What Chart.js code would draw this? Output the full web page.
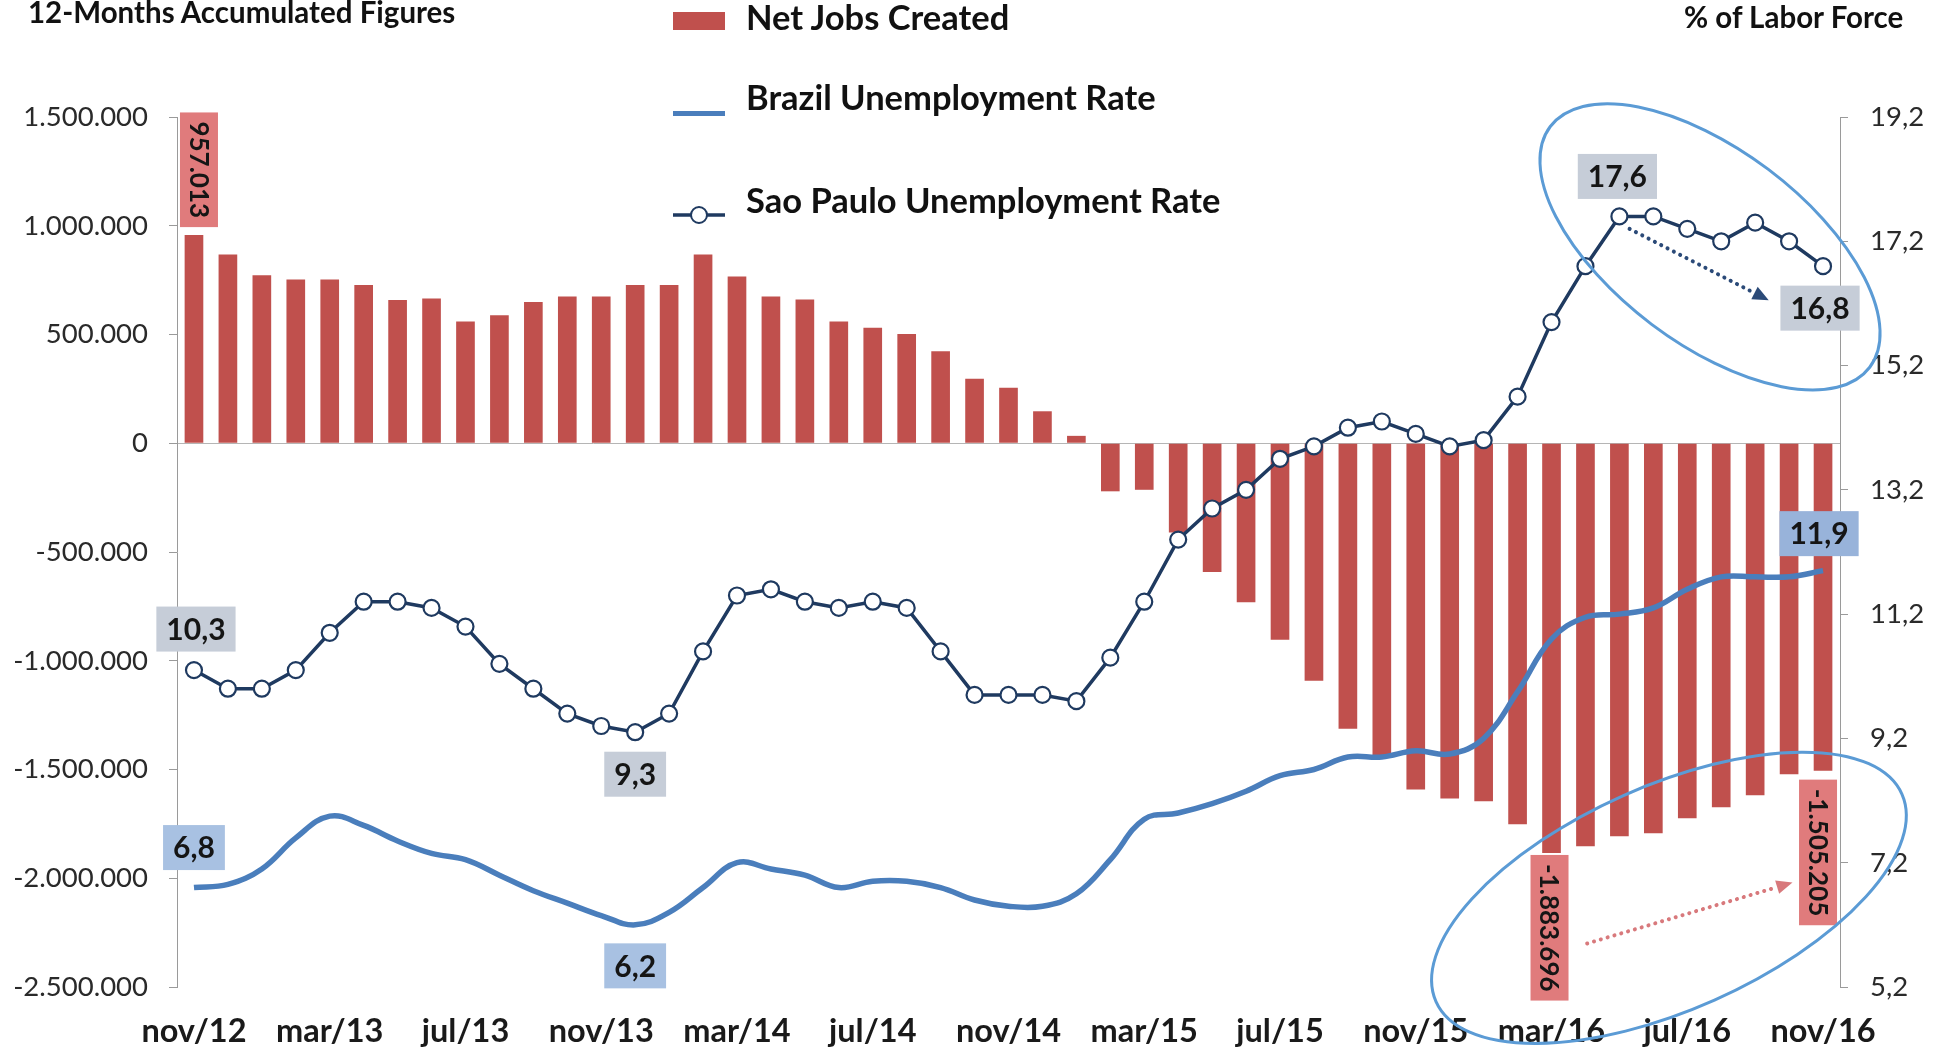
<!DOCTYPE html>
<html>
<head>
<meta charset="utf-8">
<title>Net Jobs Created and Unemployment Rate</title>
<script src="https://cdn.jsdelivr.net/npm/chart.js@4.4.1/dist/chart.umd.min.js"></script>
<style>
  html, body { margin: 0; padding: 0; background: #fff; }
  #wrap { position: relative; width: 1939px; height: 1054px; overflow: hidden; }
  #chart { position: absolute; left: 0; top: 0; }
  .heading { position: absolute; font: 700 29.5px Lato, sans-serif; line-height: 30px; color: #111; white-space: nowrap; }
  .legend-item { position: absolute; left: 673px; height: 34px; font: 700 34.5px Lato, sans-serif; line-height: 34px; color: #111; white-space: nowrap; }
  .legend-item .symbol { position: absolute; left: 0; width: 52px; }
  .legend-item .text { position: absolute; left: 73px; top: 0; }
</style>
</head>
<body>
<div id="wrap">
  <canvas id="chart" width="1939" height="1054"></canvas>
  <div class="heading" style="left:28px; top:-3px">12-Months Accumulated Figures</div>
  <div class="heading" style="left:1684px; top:2px">% of Labor Force</div>
  <div id="legend"></div>
</div>
<script>
// Months on the category axis (nov/12 .. nov/16)
const monthLabels = [
    'nov/12', 'dec/12', 'jan/13', 'feb/13', 'mar/13', 'apr/13', 'may/13', 'jun/13', 'jul/13', 'aug/13', 'sep/13', 'oct/13',
    'nov/13', 'dec/13', 'jan/14', 'feb/14', 'mar/14', 'apr/14', 'may/14', 'jun/14', 'jul/14', 'aug/14', 'sep/14', 'oct/14',
    'nov/14', 'dec/14', 'jan/15', 'feb/15', 'mar/15', 'apr/15', 'may/15', 'jun/15', 'jul/15', 'aug/15', 'sep/15', 'oct/15',
    'nov/15', 'dec/15', 'jan/16', 'feb/16', 'mar/16', 'apr/16', 'may/16', 'jun/16', 'jul/16', 'aug/16', 'sep/16', 'oct/16',
    'nov/16'
];

// Months that get a label under the axis
const axisMonths = ['nov/12', 'mar/13', 'jul/13', 'nov/13', 'mar/14', 'jul/14', 'nov/14', 'mar/15', 'jul/15', 'nov/15', 'mar/16', 'jul/16', 'nov/16'];

// Net jobs created, 12-month accumulated
const netJobsCreated = [
    957013, 868000, 772000, 753000, 753000, 728000, 659000, 666000, 560000, 589000, 649000, 675000,
    675000, 728000, 728000, 868000, 767000, 675000, 661000, 560000, 531000, 502000, 423000, 296000,
    255000, 147000, 34000, -221000, -214000, -410000, -592000, -731000, -904000, -1092000, -1313000, -1438000,
    -1592000, -1633000, -1646000, -1752000, -1883696, -1853000, -1807000, -1793000, -1724000, -1674000, -1618000, -1522000,
    -1505205
];

// Unemployment rates, % of labor force
const brazilUnemployment = [
    6.8, 6.85, 7.1, 7.6, 7.95, 7.8, 7.55, 7.35, 7.25, 7.0, 6.75, 6.55,
    6.35, 6.2, 6.4, 6.8, 7.2, 7.1, 7.0, 6.8, 6.9, 6.9, 6.8, 6.6,
    6.5, 6.5, 6.7, 7.25, 7.9, 8.0, 8.15, 8.35, 8.6, 8.7, 8.9, 8.9,
    9.0, 8.95, 9.2, 9.95, 10.8, 11.15, 11.2, 11.3, 11.6, 11.8, 11.8, 11.8,
    11.9
];
const saoPauloUnemployment = [
    10.3, 10.0, 10.0, 10.3, 10.9, 11.4, 11.4, 11.3, 11.0, 10.4, 10.0, 9.6,
    9.4, 9.3, 9.6, 10.6, 11.5, 11.6, 11.4, 11.3, 11.4, 11.3, 10.6, 9.9,
    9.9, 9.9, 9.8, 10.5, 11.4, 12.4, 12.9, 13.2, 13.7, 13.9, 14.2, 14.3,
    14.1, 13.9, 14.0, 14.7, 15.9, 16.8, 17.6, 17.6, 17.4, 17.2, 17.5, 17.2,
    16.8
];

// Axis ticks
const jobsTicks = [-2500000, -2000000, -1500000, -1000000, -500000, 0, 500000, 1000000, 1500000];
const rateTicks = [5.2, 7.2, 9.2, 11.2, 13.2, 15.2, 17.2, 19.2];

const RED = '#c0504d';
const BLUE = '#4a7ebc';
const NAVY = '#1f3a60';

function formatJobs(v) {
    const sign = v < 0 ? '-' : '';
    return sign + Math.abs(Math.round(v)).toString().replace(/\B(?=(\d{3})+(?!\d))/g, '.');
}

function formatRate(v) {
    return v.toFixed(1).replace('.', ',');
}

// Value boxes on selected points: dataset index, point index, offset, colour
const valueTags = [
    { dataset: 2, index: 0, dx: 2, dy: -41, bg: '#c6cdd8' },
    { dataset: 2, index: 13, dx: 0, dy: 42, bg: '#c6cdd8' },
    { dataset: 2, index: 42, dx: -2, dy: -40, bg: '#c6cdd8' },
    { dataset: 2, index: 48, dx: -3, dy: 42, bg: '#c6cdd8' },
    { dataset: 1, index: 0, dx: 0, dy: -40, bg: '#a8c1e2' },
    { dataset: 1, index: 13, dx: 0, dy: 41, bg: '#a8c1e2' },
    { dataset: 1, index: 48, dx: -4, dy: -37, bg: '#98b3da' },
    { dataset: 0, index: 0, dx: 5, gap: 8, bg: '#e07b7c' },
    { dataset: 0, index: 40, dx: -2, gap: 2, bg: '#e07b7c' },
    { dataset: 0, index: 48, dx: -5, gap: 9, bg: '#e07b7c' }
];

// Highlight ellipses and trend arrows, anchored in data space
const highlightRings = [
    { at: [44.67, 17.11], axis: 'y2', rx: 200, ry: 97, angle: 37 },
    { at: [43.46, -2090000], axis: 'y', rx: 255, ry: 112, angle: -24 }
];
const trendArrows = [
    { from: [42.3, 17.4], to: [46.4, 16.25], axis: 'y2', color: '#2b4a78' },
    { from: [41.05, -2300000], to: [47.1, -2020000], axis: 'y', color: '#d8797c' }
];

// Legend rows (top of row, centre of symbol relative to row)
const legendRows = [
    { top: 0, symbolY: 21 },
    { top: 80, symbolY: 33 },
    { top: 183, symbolY: 22 }
];

const valueTagPlugin = {
    id: 'valueTags',
    afterDatasetsDraw(chart) {
        const ctx = chart.ctx;
        ctx.save();
        valueTags.forEach(t => {
            const ds = chart.data.datasets[t.dataset];
            const el = chart.getDatasetMeta(t.dataset).data[t.index];
            const value = ds.data[t.index];
            if (ds.type === 'bar') {
                const text = formatJobs(value);
                ctx.font = 'bold 26px Lato, sans-serif';
                const w = ctx.measureText(text).width;
                const boxW = 38, boxH = w + 18;
                const cx = el.x + t.dx;
                const top = value >= 0 ? el.y - t.gap - boxH : el.y + t.gap;
                ctx.fillStyle = t.bg;
                ctx.fillRect(cx - boxW / 2, top, boxW, boxH);
                ctx.translate(cx, top + boxH / 2);
                ctx.rotate(Math.PI / 2);
                ctx.fillStyle = '#151515';
                ctx.textAlign = 'center';
                ctx.textBaseline = 'middle';
                ctx.fillText(text, 0, 1);
                ctx.setTransform(1, 0, 0, 1, 0, 0);
            } else {
                const text = formatRate(value);
                ctx.font = 'bold 30px Lato, sans-serif';
                const w = ctx.measureText(text).width;
                const boxW = w + 20, boxH = 45;
                const cx = el.x + t.dx, cy = el.y + t.dy;
                ctx.fillStyle = t.bg;
                ctx.fillRect(cx - boxW / 2, cy - boxH / 2, boxW, boxH);
                ctx.fillStyle = '#151515';
                ctx.textAlign = 'center';
                ctx.textBaseline = 'middle';
                ctx.fillText(text, cx, cy + 1);
            }
        });
        ctx.restore();
    }
};

const highlightPlugin = {
    id: 'highlights',
    afterDraw(chart) {
        const ctx = chart.ctx;
        const xs = chart.scales.x;
        ctx.save();
        trendArrows.forEach(a => {
            const ys = chart.scales[a.axis];
            const x1 = xs.getPixelForValue(a.from[0]), y1 = ys.getPixelForValue(a.from[1]);
            const x2 = xs.getPixelForValue(a.to[0]), y2 = ys.getPixelForValue(a.to[1]);
            const ang = Math.atan2(y2 - y1, x2 - x1);
            const head = 16;
            ctx.strokeStyle = a.color;
            ctx.lineWidth = 4;
            ctx.lineCap = 'round';
            ctx.setLineDash([0.1, 7]);
            ctx.beginPath();
            ctx.moveTo(x1, y1);
            ctx.lineTo(x2 - head * Math.cos(ang), y2 - head * Math.sin(ang));
            ctx.stroke();
            ctx.setLineDash([]);
            ctx.fillStyle = a.color;
            ctx.beginPath();
            ctx.moveTo(x2, y2);
            ctx.lineTo(x2 - head * Math.cos(ang) + 7 * Math.sin(ang), y2 - head * Math.sin(ang) - 7 * Math.cos(ang));
            ctx.lineTo(x2 - head * Math.cos(ang) - 7 * Math.sin(ang), y2 - head * Math.sin(ang) + 7 * Math.cos(ang));
            ctx.closePath();
            ctx.fill();
        });
        ctx.strokeStyle = '#5b9bd5';
        ctx.lineWidth = 3;
        highlightRings.forEach(r => {
            const cx = xs.getPixelForValue(r.at[0]);
            const cy = chart.scales[r.axis].getPixelForValue(r.at[1]);
            ctx.beginPath();
            ctx.ellipse(cx, cy, r.rx, r.ry, r.angle * Math.PI / 180, 0, Math.PI * 2);
            ctx.stroke();
        });
        ctx.restore();
    }
};

// Legend built from the datasets as HTML
const htmlLegendPlugin = {
    id: 'htmlLegend',
    afterUpdate(chart) {
        const box = document.getElementById('legend');
        box.innerHTML = '';
        chart.data.datasets.forEach((ds, i) => {
            const row = document.createElement('div');
            row.className = 'legend-item';
            row.style.top = legendRows[i].top + 'px';
            const sym = document.createElement('span');
            sym.className = 'symbol';
            const cy = legendRows[i].symbolY;
            if (ds.type === 'bar') {
                sym.style.cssText = `top:${cy - 9}px;height:18px;background:${ds.backgroundColor};`;
            } else if (ds.pointRadius > 0) {
                sym.style.cssText = `top:${cy - 10}px;height:20px;`;
                sym.innerHTML = `<svg width="52" height="20"><line x1="0" y1="10" x2="52" y2="10" stroke="${ds.borderColor}" stroke-width="3.5"/><circle cx="26" cy="10" r="8" fill="#fff" stroke="${ds.borderColor}" stroke-width="2"/></svg>`;
            } else {
                sym.style.cssText = `top:${cy - 2.5}px;height:5px;background:${ds.borderColor};`;
            }
            const txt = document.createElement('span');
            txt.className = 'text';
            txt.textContent = ds.label;
            row.appendChild(sym);
            row.appendChild(txt);
            box.appendChild(row);
        });
    }
};

Chart.defaults.font.family = 'Lato, sans-serif';

const ctx = document.getElementById('chart').getContext('2d');
new Chart(ctx, {
    type: 'bar',
    data: {
        labels: monthLabels,
        datasets: [
            {
                type: 'bar',
                label: 'Net Jobs Created',
                data: netJobsCreated,
                backgroundColor: RED,
                yAxisID: 'y',
                barPercentage: 0.55,
                categoryPercentage: 1.0,
                order: 3
            },
            {
                type: 'line',
                label: 'Brazil Unemployment Rate',
                data: brazilUnemployment,
                yAxisID: 'y2',
                borderColor: BLUE,
                borderWidth: 5.5,
                pointRadius: 0,
                tension: 0.4,
                order: 2
            },
            {
                type: 'line',
                label: 'Sao Paulo Unemployment Rate',
                data: saoPauloUnemployment,
                yAxisID: 'y2',
                borderColor: NAVY,
                borderWidth: 3.5,
                pointRadius: 8,
                pointBorderWidth: 2.2,
                pointBorderColor: NAVY,
                pointBackgroundColor: '#ffffff',
                tension: 0,
                order: 1
            }
        ]
    },
    options: {
        responsive: false,
        devicePixelRatio: 1,
        animation: false,
        layout: { padding: { top: 117, left: 0, right: 0, bottom: 0 } },
        plugins: {
            legend: { display: false },
            tooltip: { enabled: false }
        },
        scales: {
            x: {
                offset: true,
                grid: { display: false, drawTicks: false },
                border: { display: false },
                ticks: {
                    autoSkip: false,
                    maxRotation: 0,
                    minRotation: 0,
                    padding: 25,
                    color: '#1a1a1a',
                    font: { size: 32.5, weight: 'bold' },
                    callback: function(v, i) {
                        const l = monthLabels[i];
                        return axisMonths.includes(l) ? l : '';
                    }
                },
                afterFit: s => { s.height = 67; }
            },
            y: {
                position: 'left',
                min: jobsTicks[0],
                max: jobsTicks[jobsTicks.length - 1],
                afterBuildTicks: s => { s.ticks = jobsTicks.map(value => ({ value })); },
                grid: {
                    color: c => (c.tick && c.tick.value === 0 ? '#b5b5b5' : 'rgba(0,0,0,0)'),
                    tickColor: '#9a9a9a',
                    tickLength: 8
                },
                border: { display: true, color: '#9a9a9a' },
                ticks: {
                    padding: 21,
                    color: '#2a2a2a',
                    font: { size: 27.5 },
                    callback: v => formatJobs(v)
                },
                afterFit: s => { s.width = 177; }
            },
            y2: {
                position: 'right',
                min: rateTicks[0],
                max: rateTicks[rateTicks.length - 1],
                afterBuildTicks: s => { s.ticks = rateTicks.map(value => ({ value })); },
                grid: { drawOnChartArea: false, tickColor: '#9a9a9a', tickLength: 8 },
                border: { display: true, color: '#9a9a9a' },
                ticks: {
                    padding: 22,
                    color: '#2a2a2a',
                    font: { size: 27.5 },
                    callback: v => formatRate(v)
                },
                afterFit: s => { s.width = 99; }
            }
        }
    },
    plugins: [valueTagPlugin, highlightPlugin, htmlLegendPlugin]
});
</script>
</body>
</html>
